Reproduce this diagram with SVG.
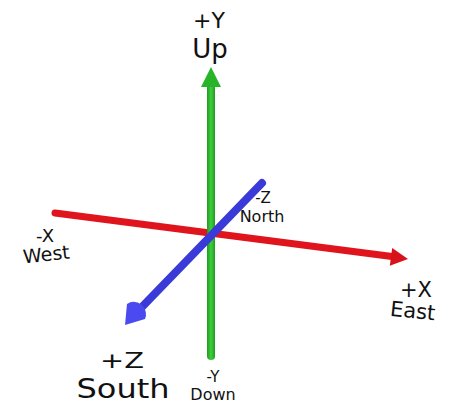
<svg xmlns="http://www.w3.org/2000/svg" width="457" height="404" viewBox="0 0 457 404">
<style>
text{font-family:"DejaVu Sans","Liberation Sans",sans-serif;fill:#111;text-anchor:middle}
.ax{fill:none;stroke-linecap:round}
</style>
<defs>
<linearGradient id="gG" x1="0" y1="0" x2="1" y2="0"><stop offset="0" stop-color="#1f9a1f"/><stop offset="0.5" stop-color="#3fcf3f"/><stop offset="1" stop-color="#1f9a1f"/></linearGradient>
</defs>
<rect width="457" height="404" fill="#fff"/>
<g id="x-axis">
<line class="ax" x1="55" y1="213" x2="392" y2="256.5" stroke="#e0141c" stroke-width="7"/>
<polygon points="408,259 392.2,247.9 389.8,265.7" fill="#d8121a"/>
</g>
<g id="y-axis">
<rect x="207" y="84" width="8" height="276" rx="4" fill="url(#gG)"/>
<polygon points="211,67 201,87 221,87" fill="#28b428"/>
</g>
<g id="z-axis">
<line class="ax" x1="262" y1="183" x2="140" y2="309" stroke="#3a3ad8" stroke-width="8"/>
<path d="M125,325 L127,304 Q134,299 142,305 Q148,312 145,319 Z" fill="#4a4af0"/>
</g>
<g id="label-py"><text x="209" y="28" font-size="22">+Y</text><text x="210" y="58" font-size="26">Up</text></g>
<g id="label-nx"><text x="45" y="242" font-size="18">-X</text><text x="47" y="261" font-size="19" transform="rotate(-6 47 261)">West</text></g>
<g id="label-nz"><text x="263" y="203" font-size="15">-Z</text><text x="262" y="222" font-size="16">North</text></g>
<g id="label-px"><text x="416" y="297" font-size="21">+X</text><text x="412" y="318" font-size="21" transform="rotate(6 412 318)">East</text></g>
<g id="label-pz"><text x="122" y="368" font-size="22" textLength="44" lengthAdjust="spacingAndGlyphs">+Z</text><text x="123" y="398" font-size="27" textLength="93" lengthAdjust="spacingAndGlyphs">South</text></g>
<g id="label-ny"><text x="213" y="382" font-size="15">-Y</text><text x="213" y="400" font-size="16">Down</text></g>
</svg>
